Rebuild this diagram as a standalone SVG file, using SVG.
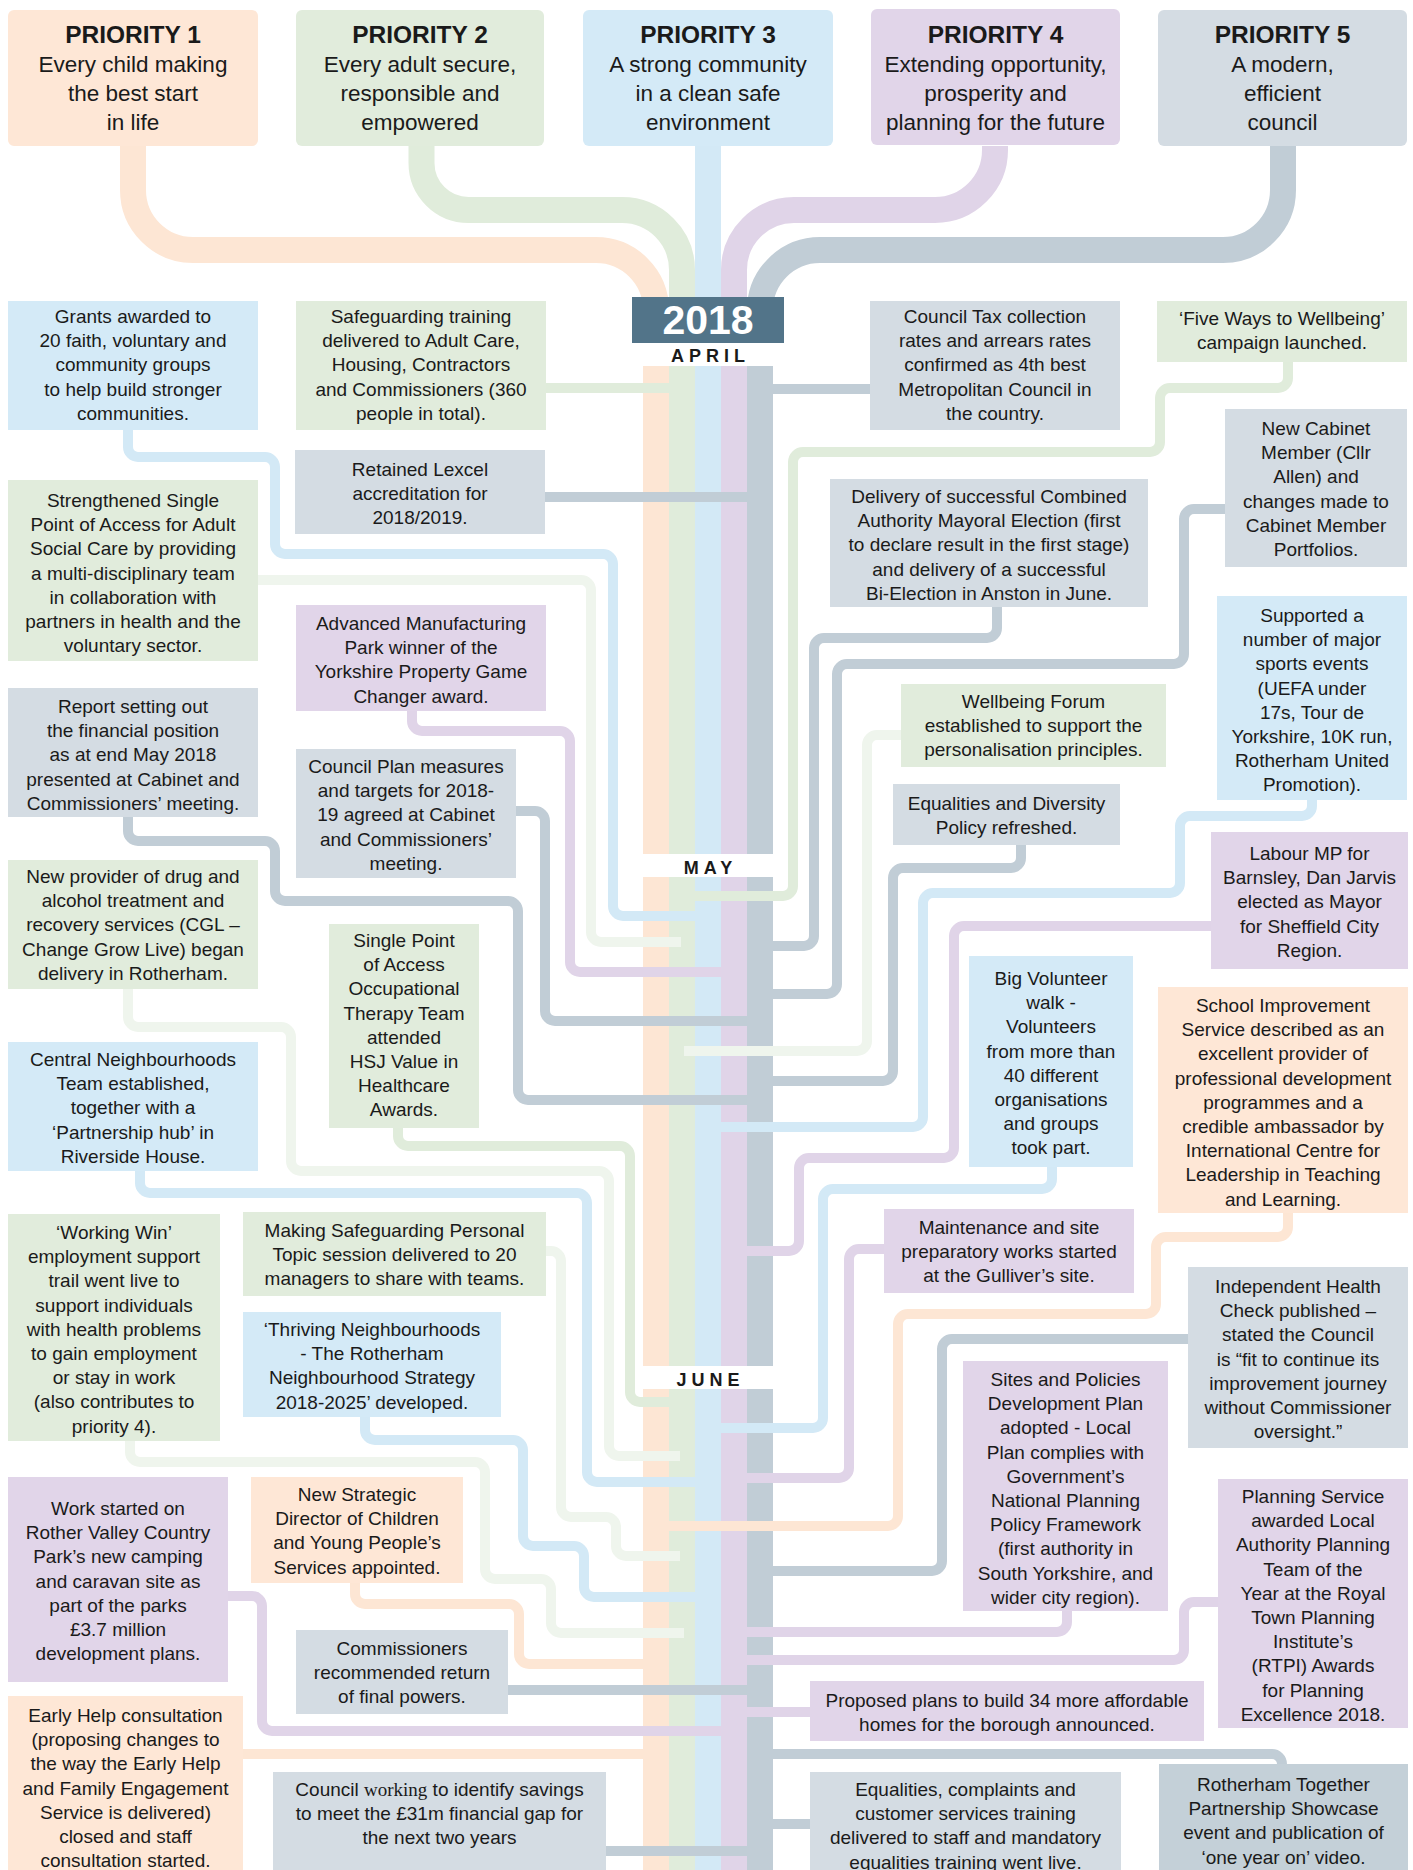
<svg xmlns="http://www.w3.org/2000/svg" width="1413" height="1870" viewBox="0 0 1413 1870">
<style>
text{font-family:"Liberation Sans",Arial,sans-serif;fill:#1a1a1a;text-anchor:middle}
.t{font-size:19px}
.ph{font-size:24.5px;font-weight:bold}
.pb{font-size:22.5px}
.mo{font-size:18px;font-weight:bold;letter-spacing:5px}
.yr{font-size:41px;font-weight:bold;fill:#ffffff}
.fo{fill:#fee7d6}.fg{fill:#e1ecdc}.fb{fill:#d4eaf7}.fu{fill:#e1d5e9}.fy{fill:#d4dce3}.fy2{fill:#c4d0d8}
.k{fill:none;stroke-width:10}
.w{fill:none;stroke-width:26}
.ko{stroke:#fde6d4}.kg{stroke:#e0ecdb}.kp{stroke:#eff5ed}.kb{stroke:#d3e9f6}.ku{stroke:#e0d4e8}.ky{stroke:#c1cdd6}
.so{fill:#fde6d4}.sg{fill:#e0ecdb}.sb{fill:#d3e9f6}.su{fill:#e0d4e8}.sy{fill:#c1cdd6}
</style>

<g id="priority-links">
<path class="w ko" d="M133 146 V190 A60 60 0 0 0 193 250 H596 A60 60 0 0 1 656 310"/>
<path class="w kg" d="M421.5 146 V163 A47 47 0 0 0 468.5 210 H622 A60 60 0 0 1 682 270 V300"/>
<path class="w kb" d="M708 146 V300"/>
<path class="w ku" d="M995 146 V150 A60 60 0 0 1 935 210 H794 A60 60 0 0 0 734 270 V300"/>
<path class="w ky" d="M1283 146 V190 A60 60 0 0 1 1223 250 H820 A60 60 0 0 0 760 310"/>
</g>

<g id="trunk">
<rect class="so" x="643" y="366" width="26" height="1504"/>
<rect class="sg" x="669" y="366" width="26" height="1504"/>
<rect class="sb" x="695" y="366" width="26" height="1504"/>
<rect class="su" x="721" y="366" width="26" height="1504"/>
<rect class="sy" x="747" y="366" width="26" height="1504"/>
<rect x="643" y="854" width="130" height="23" fill="#ffffff"/>
<rect x="643" y="1366" width="130" height="23" fill="#ffffff"/>
</g>

<g id="year">
<rect x="632" y="297" width="152" height="46" fill="#527489"/>
<text class="yr" x="708" y="334">2018</text>
<text class="mo" x="710.5" y="362">APRIL</text>
<text class="mo" x="710.5" y="874">MAY</text>
<text class="mo" x="710.5" y="1386">JUNE</text>
</g>

<g id="connectors">
<path class="k kg" d="M546 388 H669"/>
<path class="k ky" d="M870 389 H773"/>
<path class="k ky" d="M545 497 H747"/>
<path class="k kb" d="M128 430 V447 a10 10 0 0 0 10 10 H265 a10 10 0 0 1 10 10 V544 a10 10 0 0 0 10 10 H603 a10 10 0 0 1 10 10 V906 a10 10 0 0 0 10 10 H695"/>
<path class="k kp" d="M258 580 H581 a10 10 0 0 1 10 10 V932 a10 10 0 0 0 10 10 H681"/>
<path class="k ky" d="M128 817 V831 a10 10 0 0 0 10 10 H265 a10 10 0 0 1 10 10 V891 a10 10 0 0 0 10 10 H508 a10 10 0 0 1 10 10 V1090 a10 10 0 0 0 10 10 H747"/>
<path class="k ku" d="M412 711 V721 a10 10 0 0 0 10 10 H560 a10 10 0 0 1 10 10 V962 a10 10 0 0 0 10 10 H721"/>
<path class="k ky" d="M516 811 H535 a10 10 0 0 1 10 10 V1011 a10 10 0 0 0 10 10 H747"/>
<path class="k kp" d="M128 989 V1017 a10 10 0 0 0 10 10 H281 a10 10 0 0 1 10 10 V1161 a10 10 0 0 0 10 10 H599 a10 10 0 0 1 10 10 V1446 a10 10 0 0 0 10 10 H680"/>
<path class="k kg" d="M398 1128 V1136 a10 10 0 0 0 10 10 H620 a10 10 0 0 1 10 10 V1392 a10 10 0 0 0 10 10 H669"/>
<path class="k kb" d="M140 1171 V1183 a10 10 0 0 0 10 10 H577 a10 10 0 0 1 10 10 V1472 a10 10 0 0 0 10 10 H695"/>
<path class="k kp" d="M546 1251 H551 a10 10 0 0 1 10 10 V1507 a10 10 0 0 0 10 10 H606 a10 10 0 0 1 10 10 V1546 a10 10 0 0 0 10 10 H680"/>
<path class="k kb" d="M365 1417 V1430 a10 10 0 0 0 10 10 H513 a10 10 0 0 1 10 10 V1536 a10 10 0 0 0 10 10 H574 a10 10 0 0 1 10 10 V1587 a10 10 0 0 0 10 10 H695"/>
<path class="k kp" d="M130 1441 V1452 a10 10 0 0 0 10 10 H475 a10 10 0 0 1 10 10 V1569 a10 10 0 0 0 10 10 H541 a10 10 0 0 1 10 10 V1623 a10 10 0 0 0 10 10 H684"/>
<path class="k ko" d="M355 1583 V1594 a10 10 0 0 0 10 10 H509 a10 10 0 0 1 10 10 V1654 a10 10 0 0 0 10 10 H643"/>
<path class="k ky" d="M508 1690 H747"/>
<path class="k ku" d="M228 1596 H252 a10 10 0 0 1 10 10 V1721 a10 10 0 0 0 10 10 H721"/>
<path class="k ko" d="M243 1754 H643"/>
<path class="k ky" d="M606 1851 H747"/>
<path class="k kg" d="M1288 362 V378 a10 10 0 0 1 -10 10 H1170 a10 10 0 0 0 -10 10 V442 a10 10 0 0 1 -10 10 H803 a10 10 0 0 0 -10 10 V886 a10 10 0 0 1 -10 10 H695"/>
<path class="k ky" d="M997 607 V628 a10 10 0 0 1 -10 10 H824 a10 10 0 0 0 -10 10 V936 a10 10 0 0 1 -10 10 H773"/>
<path class="k ky" d="M1225 509 H1194 a10 10 0 0 0 -10 10 V654 a10 10 0 0 1 -10 10 H847 a10 10 0 0 0 -10 10 V984 a10 10 0 0 1 -10 10 H773"/>
<path class="k kp" d="M901 735 H877 a10 10 0 0 0 -10 10 V1041 a10 10 0 0 1 -10 10 H684"/>
<path class="k ky" d="M1021 845 V858 a10 10 0 0 1 -10 10 H903 a10 10 0 0 0 -10 10 V1071 a10 10 0 0 1 -10 10 H773"/>
<path class="k kb" d="M1312 800 V806 a10 10 0 0 1 -10 10 H1190 a10 10 0 0 0 -10 10 V883 a10 10 0 0 1 -10 10 H933 a10 10 0 0 0 -10 10 V1117 a10 10 0 0 1 -10 10 H721"/>
<path class="k ku" d="M1211 926 H964 a10 10 0 0 0 -10 10 V1148 a10 10 0 0 1 -10 10 H809 a10 10 0 0 0 -10 10 V1241 a10 10 0 0 1 -10 10 H747"/>
<path class="k kb" d="M1052 1167 V1179 a10 10 0 0 1 -10 10 H833 a10 10 0 0 0 -10 10 V1418 a10 10 0 0 1 -10 10 H721"/>
<path class="k ku" d="M884 1249 H859 a10 10 0 0 0 -10 10 V1468 a10 10 0 0 1 -10 10 H747"/>
<path class="k ko" d="M1288 1213 V1227 a10 10 0 0 1 -10 10 H1166 a10 10 0 0 0 -10 10 V1304 a10 10 0 0 1 -10 10 H908 a10 10 0 0 0 -10 10 V1516 a10 10 0 0 1 -10 10 H669"/>
<path class="k ky" d="M1188 1339 H952 a10 10 0 0 0 -10 10 V1561 a10 10 0 0 1 -10 10 H773"/>
<path class="k ku" d="M1067 1611 V1622 a10 10 0 0 1 -10 10 H747"/>
<path class="k ku" d="M1218 1602 H1194 a10 10 0 0 0 -10 10 V1650 a10 10 0 0 1 -10 10 H747"/>
<path class="k ku" d="M810 1712 H747"/>
<path class="k ky" d="M773 1754 H1272 a10 10 0 0 1 10 10"/>
<path class="k ky" d="M810 1824 H773"/>
</g>

<g id="p1"><rect class="fo" x="8" y="10" width="250" height="136" rx="6"/>
<text x="133" y="43"><tspan class="ph" x="133">PRIORITY 1</tspan><tspan class="pb" x="133" dy="29">Every child making</tspan><tspan class="pb" x="133" dy="29">the best start</tspan><tspan class="pb" x="133" dy="29">in life</tspan></text></g>
<g id="p2"><rect class="fg" x="296" y="10" width="248" height="136" rx="6"/>
<text x="420" y="43"><tspan class="ph" x="420">PRIORITY 2</tspan><tspan class="pb" x="420" dy="29">Every adult secure,</tspan><tspan class="pb" x="420" dy="29">responsible and</tspan><tspan class="pb" x="420" dy="29">empowered</tspan></text></g>
<g id="p3"><rect class="fb" x="583" y="10" width="250" height="136" rx="6"/>
<text x="708" y="43"><tspan class="ph" x="708">PRIORITY 3</tspan><tspan class="pb" x="708" dy="29">A strong community</tspan><tspan class="pb" x="708" dy="29">in a clean safe</tspan><tspan class="pb" x="708" dy="29">environment</tspan></text></g>
<g id="p4"><rect class="fu" x="871" y="9" width="249" height="136" rx="6"/>
<text x="995.5" y="43"><tspan class="ph" x="995.5">PRIORITY 4</tspan><tspan class="pb" x="995.5" dy="29">Extending opportunity,</tspan><tspan class="pb" x="995.5" dy="29">prosperity and</tspan><tspan class="pb" x="995.5" dy="29">planning for the future</tspan></text></g>
<g id="p5"><rect class="fy" x="1158" y="10" width="249" height="136" rx="6"/>
<text x="1282.5" y="43"><tspan class="ph" x="1282.5">PRIORITY 5</tspan><tspan class="pb" x="1282.5" dy="29">A modern,</tspan><tspan class="pb" x="1282.5" dy="29">efficient</tspan><tspan class="pb" x="1282.5" dy="29">council</tspan></text></g>

<g id="e01"><rect class="fb" x="8" y="301" width="250" height="129"/>
<text class="t" y="323"><tspan x="133">Grants awarded to</tspan><tspan x="133" dy="24.2">20 faith, voluntary and</tspan><tspan x="133" dy="24.2">community groups</tspan><tspan x="133" dy="24.2">to help build stronger</tspan><tspan x="133" dy="24.2">communities.</tspan></text></g>
<g id="e02"><rect class="fg" x="8" y="480" width="250" height="181"/>
<text class="t" y="507"><tspan x="133">Strengthened Single</tspan><tspan x="133" dy="24.2">Point of Access for Adult</tspan><tspan x="133" dy="24.2">Social Care by providing</tspan><tspan x="133" dy="24.2">a multi-disciplinary team</tspan><tspan x="133" dy="24.2">in collaboration with</tspan><tspan x="133" dy="24.2">partners in health and the</tspan><tspan x="133" dy="24.2">voluntary sector.</tspan></text></g>
<g id="e03"><rect class="fy" x="8" y="688" width="250" height="129"/>
<text class="t" y="713"><tspan x="133">Report setting out</tspan><tspan x="133" dy="24.2">the financial position</tspan><tspan x="133" dy="24.2">as at end May 2018</tspan><tspan x="133" dy="24.2">presented at Cabinet and</tspan><tspan x="133" dy="24.2">Commissioners’ meeting.</tspan></text></g>
<g id="e04"><rect class="fg" x="8" y="860" width="250" height="129"/>
<text class="t" y="883"><tspan x="133">New provider of drug and</tspan><tspan x="133" dy="24.2">alcohol treatment and</tspan><tspan x="133" dy="24.2">recovery services (CGL –</tspan><tspan x="133" dy="24.2">Change Grow Live) began</tspan><tspan x="133" dy="24.2">delivery in Rotherham.</tspan></text></g>
<g id="e05"><rect class="fb" x="8" y="1042" width="250" height="129"/>
<text class="t" y="1066"><tspan x="133">Central Neighbourhoods</tspan><tspan x="133" dy="24.2">Team established,</tspan><tspan x="133" dy="24.2">together with a</tspan><tspan x="133" dy="24.2">‘Partnership hub’ in</tspan><tspan x="133" dy="24.2">Riverside House.</tspan></text></g>
<g id="e06"><rect class="fg" x="8" y="1214" width="212" height="227"/>
<text class="t" y="1239"><tspan x="114">‘Working Win’</tspan><tspan x="114" dy="24.2">employment support</tspan><tspan x="114" dy="24.2">trail went live to</tspan><tspan x="114" dy="24.2">support individuals</tspan><tspan x="114" dy="24.2">with health problems</tspan><tspan x="114" dy="24.2">to gain employment</tspan><tspan x="114" dy="24.2">or stay in work</tspan><tspan x="114" dy="24.2">(also contributes to</tspan><tspan x="114" dy="24.2">priority 4).</tspan></text></g>
<g id="e07"><rect class="fu" x="8" y="1477" width="220" height="205"/>
<text class="t" y="1515"><tspan x="118">Work started on</tspan><tspan x="118" dy="24.2">Rother Valley Country</tspan><tspan x="118" dy="24.2">Park’s new camping</tspan><tspan x="118" dy="24.2">and caravan site as</tspan><tspan x="118" dy="24.2">part of the parks</tspan><tspan x="118" dy="24.2">£3.7 million</tspan><tspan x="118" dy="24.2">development plans.</tspan></text></g>
<g id="e08"><rect class="fo" x="8" y="1696" width="235" height="174"/>
<text class="t" y="1722"><tspan x="125.5">Early Help consultation</tspan><tspan x="125.5" dy="24.2">(proposing changes to</tspan><tspan x="125.5" dy="24.2">the way the Early Help</tspan><tspan x="125.5" dy="24.2">and Family Engagement</tspan><tspan x="125.5" dy="24.2">Service is delivered)</tspan><tspan x="125.5" dy="24.2">closed and staff</tspan><tspan x="125.5" dy="24.2">consultation started.</tspan></text></g>

<g id="e09"><rect class="fg" x="296" y="301" width="250" height="129"/>
<text class="t" y="323"><tspan x="421">Safeguarding training</tspan><tspan x="421" dy="24.2">delivered to Adult Care,</tspan><tspan x="421" dy="24.2">Housing, Contractors</tspan><tspan x="421" dy="24.2">and Commissioners (360</tspan><tspan x="421" dy="24.2">people in total).</tspan></text></g>
<g id="e10"><rect class="fy" x="295" y="450" width="250" height="84"/>
<text class="t" y="476"><tspan x="420">Retained Lexcel</tspan><tspan x="420" dy="24.2">accreditation for</tspan><tspan x="420" dy="24.2">2018/2019.</tspan></text></g>
<g id="e11"><rect class="fu" x="296" y="605" width="250" height="106"/>
<text class="t" y="630"><tspan x="421">Advanced Manufacturing</tspan><tspan x="421" dy="24.2">Park winner of the</tspan><tspan x="421" dy="24.2">Yorkshire Property Game</tspan><tspan x="421" dy="24.2">Changer award.</tspan></text></g>
<g id="e12"><rect class="fy" x="296" y="749" width="220" height="129"/>
<text class="t" y="773"><tspan x="406">Council Plan measures</tspan><tspan x="406" dy="24.2">and targets for 2018-</tspan><tspan x="406" dy="24.2">19 agreed at Cabinet</tspan><tspan x="406" dy="24.2">and Commissioners’</tspan><tspan x="406" dy="24.2">meeting.</tspan></text></g>
<g id="e13"><rect class="fg" x="329" y="924" width="150" height="204"/>
<text class="t" y="947"><tspan x="404">Single Point</tspan><tspan x="404" dy="24.2">of Access</tspan><tspan x="404" dy="24.2">Occupational</tspan><tspan x="404" dy="24.2">Therapy Team</tspan><tspan x="404" dy="24.2">attended</tspan><tspan x="404" dy="24.2">HSJ Value in</tspan><tspan x="404" dy="24.2">Healthcare</tspan><tspan x="404" dy="24.2">Awards.</tspan></text></g>
<g id="e14"><rect class="fg" x="243" y="1212" width="303" height="84"/>
<text class="t" y="1237"><tspan x="394.5">Making Safeguarding Personal</tspan><tspan x="394.5" dy="24.2">Topic session delivered to 20</tspan><tspan x="394.5" dy="24.2">managers to share with teams.</tspan></text></g>
<g id="e15"><rect class="fb" x="243" y="1312" width="258" height="105"/>
<text class="t" y="1336"><tspan x="372">‘Thriving Neighbourhoods</tspan><tspan x="372" dy="24.2">- The Rotherham</tspan><tspan x="372" dy="24.2">Neighbourhood Strategy</tspan><tspan x="372" dy="24.2">2018-2025’ developed.</tspan></text></g>
<g id="e16"><rect class="fo" x="251" y="1477" width="212" height="106"/>
<text class="t" y="1501"><tspan x="357">New Strategic</tspan><tspan x="357" dy="24.2">Director of Children</tspan><tspan x="357" dy="24.2">and Young People’s</tspan><tspan x="357" dy="24.2">Services appointed.</tspan></text></g>
<g id="e17"><rect class="fy" x="296" y="1630" width="212" height="84"/>
<text class="t" y="1655"><tspan x="402">Commissioners</tspan><tspan x="402" dy="24.2">recommended return</tspan><tspan x="402" dy="24.2">of final powers.</tspan></text></g>
<g id="e18"><rect class="fy" x="273" y="1772" width="333" height="98"/>
<text class="t" y="1796"><tspan x="439.5">Council <tspan style="font-family:'Liberation Serif',serif">working</tspan> to identify savings</tspan><tspan x="439.5" dy="24.2">to meet the £31m financial gap for</tspan><tspan x="439.5" dy="24.2">the next two years</tspan></text></g>

<g id="e19"><rect class="fy" x="870" y="301" width="250" height="129"/>
<text class="t" y="323"><tspan x="995">Council Tax collection</tspan><tspan x="995" dy="24.2">rates and arrears rates</tspan><tspan x="995" dy="24.2">confirmed as 4th best</tspan><tspan x="995" dy="24.2">Metropolitan Council in</tspan><tspan x="995" dy="24.2">the country.</tspan></text></g>
<g id="e20"><rect class="fg" x="1157" y="301" width="250" height="61"/>
<text class="t" y="325"><tspan x="1282">‘Five Ways to Wellbeing’</tspan><tspan x="1282" dy="24.2">campaign launched.</tspan></text></g>
<g id="e21"><rect class="fy" x="1225" y="409" width="182" height="158"/>
<text class="t" y="435"><tspan x="1316">New Cabinet</tspan><tspan x="1316" dy="24.2">Member (Cllr</tspan><tspan x="1316" dy="24.2">Allen) and</tspan><tspan x="1316" dy="24.2">changes made to</tspan><tspan x="1316" dy="24.2">Cabinet Member</tspan><tspan x="1316" dy="24.2">Portfolios.</tspan></text></g>
<g id="e22"><rect class="fy" x="830" y="479" width="318" height="128"/>
<text class="t" y="503"><tspan x="989">Delivery of successful Combined</tspan><tspan x="989" dy="24.2">Authority Mayoral Election (first</tspan><tspan x="989" dy="24.2">to declare result in the first stage)</tspan><tspan x="989" dy="24.2">and delivery of a successful</tspan><tspan x="989" dy="24.2">Bi-Election in Anston in June.</tspan></text></g>
<g id="e23"><rect class="fb" x="1217" y="596" width="190" height="204"/>
<text class="t" y="622"><tspan x="1312">Supported a</tspan><tspan x="1312" dy="24.2">number of major</tspan><tspan x="1312" dy="24.2">sports events</tspan><tspan x="1312" dy="24.2">(UEFA under</tspan><tspan x="1312" dy="24.2">17s, Tour de</tspan><tspan x="1312" dy="24.2">Yorkshire, 10K run,</tspan><tspan x="1312" dy="24.2">Rotherham United</tspan><tspan x="1312" dy="24.2">Promotion).</tspan></text></g>
<g id="e24"><rect class="fg" x="901" y="684" width="265" height="83"/>
<text class="t" y="708"><tspan x="1033.5">Wellbeing Forum</tspan><tspan x="1033.5" dy="24.2">established to support the</tspan><tspan x="1033.5" dy="24.2">personalisation principles.</tspan></text></g>
<g id="e25"><rect class="fy" x="893" y="784" width="227" height="61"/>
<text class="t" y="810"><tspan x="1006.5">Equalities and Diversity</tspan><tspan x="1006.5" dy="24.2">Policy refreshed.</tspan></text></g>
<g id="e26"><rect class="fu" x="1211" y="832" width="197" height="137"/>
<text class="t" y="860"><tspan x="1309.5">Labour MP for</tspan><tspan x="1309.5" dy="24.2">Barnsley, Dan Jarvis</tspan><tspan x="1309.5" dy="24.2">elected as Mayor</tspan><tspan x="1309.5" dy="24.2">for Sheffield City</tspan><tspan x="1309.5" dy="24.2">Region.</tspan></text></g>
<g id="e27"><rect class="fb" x="969" y="956" width="164" height="211"/>
<text class="t" y="985"><tspan x="1051">Big Volunteer</tspan><tspan x="1051" dy="24.2">walk -</tspan><tspan x="1051" dy="24.2">Volunteers</tspan><tspan x="1051" dy="24.2">from more than</tspan><tspan x="1051" dy="24.2">40 different</tspan><tspan x="1051" dy="24.2">organisations</tspan><tspan x="1051" dy="24.2">and groups</tspan><tspan x="1051" dy="24.2">took part.</tspan></text></g>
<g id="e28"><rect class="fo" x="1158" y="987" width="250" height="226"/>
<text class="t" y="1012"><tspan x="1283">School Improvement</tspan><tspan x="1283" dy="24.2">Service described as an</tspan><tspan x="1283" dy="24.2">excellent provider of</tspan><tspan x="1283" dy="24.2">professional development</tspan><tspan x="1283" dy="24.2">programmes and a</tspan><tspan x="1283" dy="24.2">credible ambassador by</tspan><tspan x="1283" dy="24.2">International Centre for</tspan><tspan x="1283" dy="24.2">Leadership in Teaching</tspan><tspan x="1283" dy="24.2">and Learning.</tspan></text></g>
<g id="e29"><rect class="fu" x="884" y="1209" width="250" height="84"/>
<text class="t" y="1234"><tspan x="1009">Maintenance and site</tspan><tspan x="1009" dy="24.2">preparatory works started</tspan><tspan x="1009" dy="24.2">at the Gulliver’s site.</tspan></text></g>
<g id="e30"><rect class="fy" x="1188" y="1267" width="220" height="181"/>
<text class="t" y="1293"><tspan x="1298">Independent Health</tspan><tspan x="1298" dy="24.2">Check published –</tspan><tspan x="1298" dy="24.2">stated the Council</tspan><tspan x="1298" dy="24.2">is “fit to continue its</tspan><tspan x="1298" dy="24.2">improvement journey</tspan><tspan x="1298" dy="24.2">without Commissioner</tspan><tspan x="1298" dy="24.2">oversight.”</tspan></text></g>
<g id="e31"><rect class="fu" x="963" y="1361" width="205" height="250"/>
<text class="t" y="1386"><tspan x="1065.5">Sites and Policies</tspan><tspan x="1065.5" dy="24.2">Development Plan</tspan><tspan x="1065.5" dy="24.2">adopted - Local</tspan><tspan x="1065.5" dy="24.2">Plan complies with</tspan><tspan x="1065.5" dy="24.2">Government’s</tspan><tspan x="1065.5" dy="24.2">National Planning</tspan><tspan x="1065.5" dy="24.2">Policy Framework</tspan><tspan x="1065.5" dy="24.2">(first authority in</tspan><tspan x="1065.5" dy="24.2">South Yorkshire, and</tspan><tspan x="1065.5" dy="24.2">wider city region).</tspan></text></g>
<g id="e32"><rect class="fu" x="1218" y="1479" width="190" height="249"/>
<text class="t" y="1503"><tspan x="1313">Planning Service</tspan><tspan x="1313" dy="24.2">awarded Local</tspan><tspan x="1313" dy="24.2">Authority Planning</tspan><tspan x="1313" dy="24.2">Team of the</tspan><tspan x="1313" dy="24.2">Year at the Royal</tspan><tspan x="1313" dy="24.2">Town Planning</tspan><tspan x="1313" dy="24.2">Institute’s</tspan><tspan x="1313" dy="24.2">(RTPI) Awards</tspan><tspan x="1313" dy="24.2">for Planning</tspan><tspan x="1313" dy="24.2">Excellence 2018.</tspan></text></g>
<g id="e33"><rect class="fu" x="810" y="1681" width="394" height="60"/>
<text class="t" y="1707"><tspan x="1007">Proposed plans to build 34 more affordable</tspan><tspan x="1007" dy="24.2">homes for the borough announced.</tspan></text></g>
<g id="e34"><rect class="fy" x="810" y="1772" width="311" height="98"/>
<text class="t" y="1796"><tspan x="965.5">Equalities, complaints and</tspan><tspan x="965.5" dy="24.2">customer services training</tspan><tspan x="965.5" dy="24.2">delivered to staff and mandatory</tspan><tspan x="965.5" dy="24.2">equalities training went live.</tspan></text></g>
<g id="e35"><rect class="fy2" x="1159" y="1764" width="249" height="106"/>
<text class="t" y="1791"><tspan x="1283.5">Rotherham Together</tspan><tspan x="1283.5" dy="24.2">Partnership Showcase</tspan><tspan x="1283.5" dy="24.2">event and publication of</tspan><tspan x="1283.5" dy="24.2">‘one year on’ video.</tspan></text></g>
</svg>
